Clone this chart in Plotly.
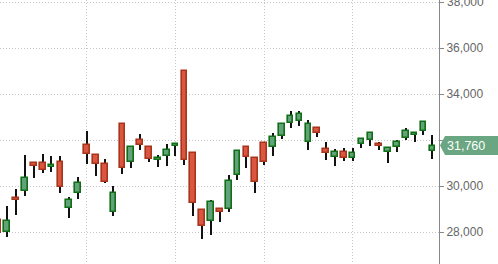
import plotly.graph_objects as go

# OHLC data
opens = [28520, 27990, 29465, 29795, 30985, 30985, 30815, 31030, 29030, 29685,
         31770, 31350, 30945, 28855, 32685, 31030, 31985, 31685, 31145, 31290,
         31750, 35000, 31420, 28955, 28465, 28985, 28985, 30465, 31685, 31205,
         31855, 31685, 32160, 32725, 32815, 31900, 32510, 31595, 31250, 31490,
         31205, 31815, 31985, 31825, 31490, 31685, 32085, 32230, 32405, 31535]
highs = [28695, 29130, 29870, 31350, 31000, 31390, 31305, 31305, 29535, 30390,
         32390, 31390, 31175, 30000, 32685, 31685, 32260, 31685, 31350, 31825,
         31885, 35000, 31420, 29000, 29390, 28985, 30480, 31565, 31750, 31205,
         31900, 32290, 32685, 33260, 33260, 32870, 32510, 31900, 31595, 31640,
         31640, 32100, 32315, 31925, 31710, 32000, 32510, 32290, 32795, 32215]
lows = [27785, 27795, 28750, 29565, 30360, 30580, 30610, 29710, 28620, 29435,
        30955, 30450, 30130, 28710, 30535, 30795, 31580, 31055, 30840, 30885,
        31315, 30925, 28710, 27710, 27885, 28450, 28885, 30260, 30795, 29710,
        30925, 31315, 32055, 32535, 32620, 31580, 32145, 31145, 30885, 31100,
        31100, 31640, 31750, 31565, 31015, 31490, 32000, 31925, 32215, 31175]
closes = [27945, 28480, 29380, 30335, 30855, 30685, 30915, 29945, 29390, 30115,
          31380, 30945, 30185, 29685, 30770, 31685, 31770, 31160, 31215, 31550,
          31825, 31145, 29250, 28275, 29290, 28885, 30205, 31510, 31250, 30185,
          31055, 32115, 32685, 33030, 33115, 32685, 32290, 31450, 31490, 31205,
          31420, 32030, 32315, 31750, 31665, 31925, 32405, 32290, 32795, 31760]
y_ticks = [28000, 30000, 32000, 34000, 36000, 38000]
y_tick_text = ["28,000", "30,000", "", "34,000", "36,000", ""]  # 32,000 hidden by price tag
top_label = "38,000"

idx = list(range(len(closes)))
RED_FILL, RED_LINE = "#da5641", "#a8341c"
GRN_FILL, GRN_LINE = "#62a27a", "#0f6e16"

up = [c >= o for o, c in zip(opens, closes)]
body_base = [min(o, c) for o, c in zip(opens, closes)]
body_h = [abs(c - o) for o, c in zip(opens, closes)]

fig = go.Figure()
# wicks
fig.add_trace(go.Bar(
    x=idx, base=lows, y=[h - l for h, l in zip(highs, lows)],
    width=0.14, marker=dict(color="#111111", line=dict(width=0)),
    hoverinfo="skip", showlegend=False))
# bodies
fig.add_trace(go.Bar(
    x=idx, base=body_base, y=body_h, width=0.64,
    marker=dict(color=[GRN_FILL if u else RED_FILL for u in up],
                line=dict(color=[GRN_LINE if u else RED_LINE for u in up], width=1.6)),
    showlegend=False))

last = closes[-1]
fig.add_shape(type="path", xref="paper", yref="y", xsizemode="pixel", ysizemode="pixel",
              xanchor=1, yanchor=last,
              path="M 1 0 L 6 -9.5 L 62 -9.5 L 62 9.5 L 6 9.5 Z",
              fillcolor="#6aa682", line=dict(width=0), layer="above")
fig.add_annotation(xref="paper", yref="y", x=1, y=last, xanchor="left", yanchor="middle",
                   xshift=6, text=f"{last:,}", showarrow=False,
                   font=dict(color="white", size=12.5, family="Arial, Liberation Sans"))
# top tick label, partly cut by the page edge as in the reference
fig.add_annotation(xref="paper", yref="y", x=1, y=y_ticks[-1], xanchor="left", yanchor="middle",
                   xshift=6, text=top_label, showarrow=False,
                   font=dict(color="#666666", size=12, family="Arial, Liberation Sans"))

fig.update_layout(
    width=498, height=264, margin=dict(l=0, r=59, t=0, b=0),
    paper_bgcolor="white", plot_bgcolor="white", barmode="overlay",
    bargap=0, showlegend=False,
    font=dict(family="Arial, Liberation Sans", size=12, color="#666666"),
    xaxis=dict(range=[0.18, 49.75], showticklabels=False, ticks="", showline=False,
               zeroline=False, showgrid=True, tick0=0, dtick=10,
               gridcolor="#c8c8c8", griddash="1px,2px", gridwidth=1),
    yaxis=dict(side="right", range=[26609, 38087], tickvals=y_ticks, ticktext=y_tick_text,
               showgrid=True, gridcolor="#c8c8c8", griddash="1px,2px", gridwidth=1,
               showline=True, linecolor="#888888", linewidth=1, zeroline=False,
               ticks="outside", ticklen=4, tickcolor="#888888",
               tickfont=dict(size=12, color="#666666")),
)

fig.write_html("out.html")
